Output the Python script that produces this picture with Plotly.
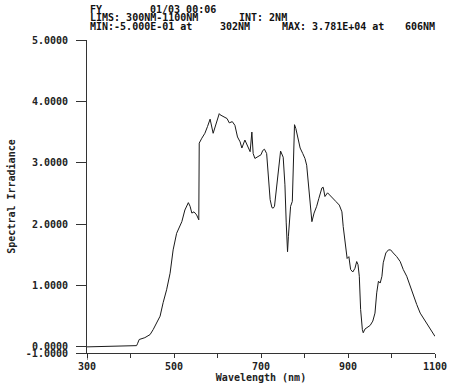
import plotly.graph_objects as go

# Spectral scan, 300-1100 nm
wavelength_nm = [
    300, 410, 414, 416, 420, 433, 445, 452, 460, 468, 475, 483, 491, 498, 506, 514, 518, 525,
    533, 537, 541, 546, 552, 557, 558, 564, 571, 577, 583, 590, 598, 604, 606, 612, 617, 622,
    627, 634, 640, 646, 652, 656, 663, 668, 675, 679, 682, 686, 694, 700, 704, 708, 713, 717,
    721, 725, 728, 731, 735, 740, 745, 751, 755, 758, 761, 763, 765, 768, 772, 774, 777, 780,
    786, 790, 796, 801, 805, 809, 813, 817, 822, 828, 833, 840, 843, 847, 853, 859, 865, 872,
    880, 886, 889, 895, 898, 902, 906, 911, 916, 920, 923, 926, 929, 933, 935, 939, 944, 951,
    957, 962, 966, 970, 974, 978, 981, 987, 993, 998, 1004, 1012, 1020, 1027, 1035, 1043,
    1050, 1058, 1066, 1073, 1081, 1088, 1096, 1100,
]
irradiance = [
    0.00, 0.01, 0.02, 0.05, 0.12, 0.15, 0.20, 0.28, 0.39, 0.50, 0.72, 0.93, 1.20, 1.58, 1.85, 1.96, 2.04, 2.23,
    2.35, 2.29, 2.18, 2.20, 2.15, 2.07, 3.32, 3.40, 3.48, 3.59, 3.71, 3.48, 3.67, 3.80, 3.781, 3.76, 3.74, 3.72,
    3.65, 3.67, 3.61, 3.42, 3.34, 3.24, 3.37, 3.29, 3.18, 3.50, 3.15, 3.07, 3.10, 3.13, 3.20, 3.22, 3.15, 2.83,
    2.40, 2.27, 2.26, 2.29, 2.56, 2.94, 3.19, 3.09, 2.64, 2.02, 1.55, 1.80, 2.02, 2.29, 2.37, 3.05, 3.62, 3.56,
    3.37, 3.24, 3.15, 3.07, 2.96, 2.67, 2.29, 2.04, 2.18, 2.29, 2.42, 2.59, 2.60, 2.45, 2.51, 2.46, 2.41, 2.37,
    2.31, 2.20, 1.96, 1.64, 1.44, 1.47, 1.26, 1.22, 1.28, 1.39, 1.34, 1.15, 0.61, 0.28, 0.23, 0.29, 0.31, 0.35,
    0.42, 0.55, 0.88, 1.07, 1.04, 1.15, 1.37, 1.53, 1.58, 1.58, 1.53, 1.47, 1.39, 1.26, 1.15, 0.99,
    0.82, 0.69, 0.55, 0.47, 0.39, 0.31, 0.23, 0.17,
]

x_tick_vals = [300, 400, 500, 600, 700, 800, 900, 1000, 1100]
x_tick_text = ["300", "", "500", "", "700", "", "900", "", "1100"]
y_tick_vals = [-0.1, 0, 1, 2, 3, 4, 5]
y_tick_text = ["-1.0000", "0.0000", "1.0000", "2.0000", "3.0000", "4.0000", "5.0000"]

# Header block: (text, x pixel, y pixel)
header_items = [
    ("FY", 88, 9.5),
    ("01/03 00:06", 148, 9.5),
    ("LIMS: 300NM-1100NM", 88, 18),
    ("INT: 2NM", 237, 18),
    ("MIN:-5.000E-01 at", 88, 26.5),
    ("302NM", 218, 26.5),
    ("MAX: 3.781E+04 at", 280, 26.5),
    ("606NM", 403, 26.5),
]

W, H = 449, 391
MONO = "DejaVu Sans Mono"

fig = go.Figure()
fig.add_trace(go.Scatter(
    x=wavelength_nm, y=irradiance, mode="lines",
    line=dict(color="#1a1a1a", width=1), showlegend=False, hoverinfo="skip",
))

for text, px, py in header_items:
    fig.add_annotation(
        text=text, xref="paper", yref="paper",
        x=(px - 87) / (435 - 87), y=(353 - py) / (353 - 40),
        xanchor="left", yanchor="middle", showarrow=False,
        font=dict(family=MONO, size=10, color="#111", weight="bold"),
    )

# small stub of the vertical axis below the baseline
fig.add_shape(type="line", xref="x", yref="paper", x0=300, x1=300, y0=0, y1=-0.022,
              line=dict(color="#222", width=1))

fig.update_layout(
    width=W, height=H,
    margin=dict(l=87, r=14, t=40, b=38, autoexpand=False),
    paper_bgcolor="white", plot_bgcolor="white",
    font=dict(family=MONO, size=10, color="#222"),
    xaxis=dict(
        range=[300, 1100], tickvals=x_tick_vals, ticktext=x_tick_text,
        ticks="outside", ticklen=4, tickcolor="#333", showgrid=False, zeroline=False,
        showline=True, linecolor="#333", linewidth=1, ticklabelstandoff=0,
        automargin=False,
        tickfont=dict(family=MONO, size=10, color="#222", weight="bold"),
        title=dict(text="Wavelength (nm)", standoff=2,
                   font=dict(family=MONO, size=10, color="#222", weight="bold")),
    ),
    yaxis=dict(
        range=[-0.1, 5.0], tickvals=y_tick_vals, ticktext=y_tick_text,
        ticks="outside", ticklen=10, tickcolor="#333", showgrid=False, zeroline=False,
        showline=True, linecolor="#333", linewidth=1, ticklabelstandoff=6,
        automargin=False,
        tickfont=dict(family=MONO, size=10, color="#222", weight="bold"),
        title=dict(text="Spectral Irradiance", standoff=8,
                   font=dict(family=MONO, size=10, color="#222", weight="bold")),
    ),
)

fig.write_html("out.html")
